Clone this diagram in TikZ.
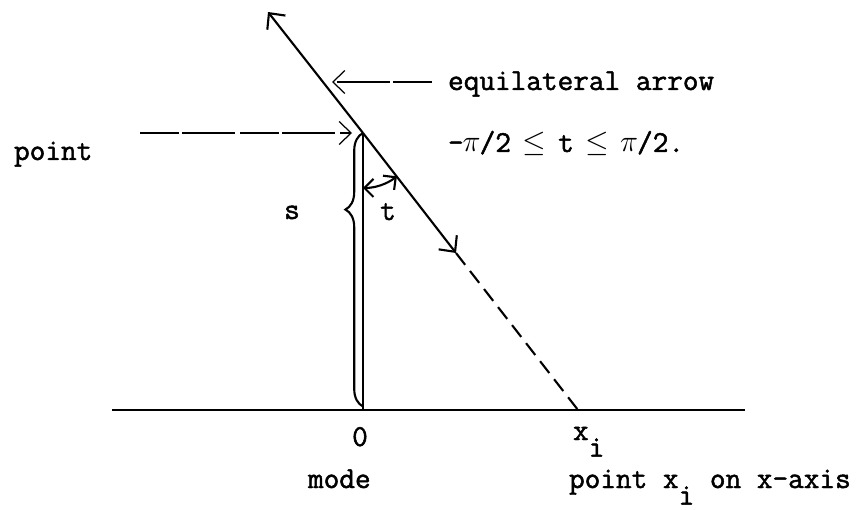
\documentclass[tikz,border=0pt]{standalone}
\usepackage{fontspec}
\newfontfamily\typefont{Latin Modern Mono}[FakeBold=1.6]
\usetikzlibrary{arrows.meta,decorations.pathreplacing}

\newcommand{\typesub}[1]{\raisebox{-0.55em}{#1}}
\newcommand{\typecell}[1]{\makebox[0.525em]{$#1$}}

\tikzset{
    label text/.style={inner sep=0pt, font=\typefont\fontsize{17.3}{20}\selectfont},
    barb/.style={-{Straight Barb[length=2.4mm,width=4.6mm]}},
    tbarbs/.style={{Straight Barb[length=1.8mm,width=3.6mm]}-{Straight Barb[length=1.8mm,width=3.6mm]}},
    leader/.style={line width=0.7pt, dash pattern=on 22pt off 2pt on 30pt off 3pt, barb},
}

\begin{document}
\begin{tikzpicture}[x=0.02cm, y=-0.02cm, line width=1.2pt]
    \useasboundingbox (0,0) rectangle (866,510);
    \coordinate (P) at (363,133);
    \coordinate (top) at (268,12);
    \coordinate (head) at (456,253);
    \coordinate (xi) at (578,410);
    \coordinate (O) at (363,410);
    \coordinate (axL) at (112,410);
    \coordinate (axR) at (745,410);

    % axis, vertical through the mode
    \draw (axL) -- (axR);
    \draw (P) -- (O);
    % the arrow through the point
    \draw[barb] (P) -- (top);
    \draw[barb] (P) -- (head);
    \draw[dash pattern=on 8.5pt off 4.5pt] (head) -- (xi);
    % distance s and angle t
    \draw[decorate, decoration={brace, amplitude=10pt, aspect=0.72}] ([yshift=2pt]O) -- (P);
    \draw[tbarbs] ([yshift=-1.1cm]P) arc[start angle=-90, end angle=-52, radius=1.1cm];

    \node[label text, anchor=base west] (equil) at (447,90) {equilateral arrow};
    \node[label text, anchor=base west] (range) at (447,152) {-\typecell{\pi}/2 \typecell{\le} t \typecell{\le} \typecell{\pi}/2.};
    \node[label text, anchor=base west] (pointlbl) at (13,160) {point};
    \node[label text, anchor=base] (slbl) at (292,219) {s};
    \node[label text, anchor=base] (tlbl) at (388,220) {t};
    \node[label text, anchor=base] (zero) at (360,446) {0};
    \node[label text, anchor=base west] (xlbl) at (572,440) {x\typesub{i}};
    \node[label text, anchor=base west] (mode) at (307,488) {mode};
    \node[label text, anchor=base west] (xaxis) at (568,488) {point x\typesub{i} on x-axis};

    % leader arrows
    \coordinate (eqtail) at (432,82);
    \coordinate (eqtip) at (332,82);
    \coordinate (pttail) at (140,133);
    \coordinate (pttip) at (352,133);
    \draw[leader] (eqtail) -- (eqtip);
    \draw[leader] (pttail) -- (pttip);
\end{tikzpicture}
\end{document}
